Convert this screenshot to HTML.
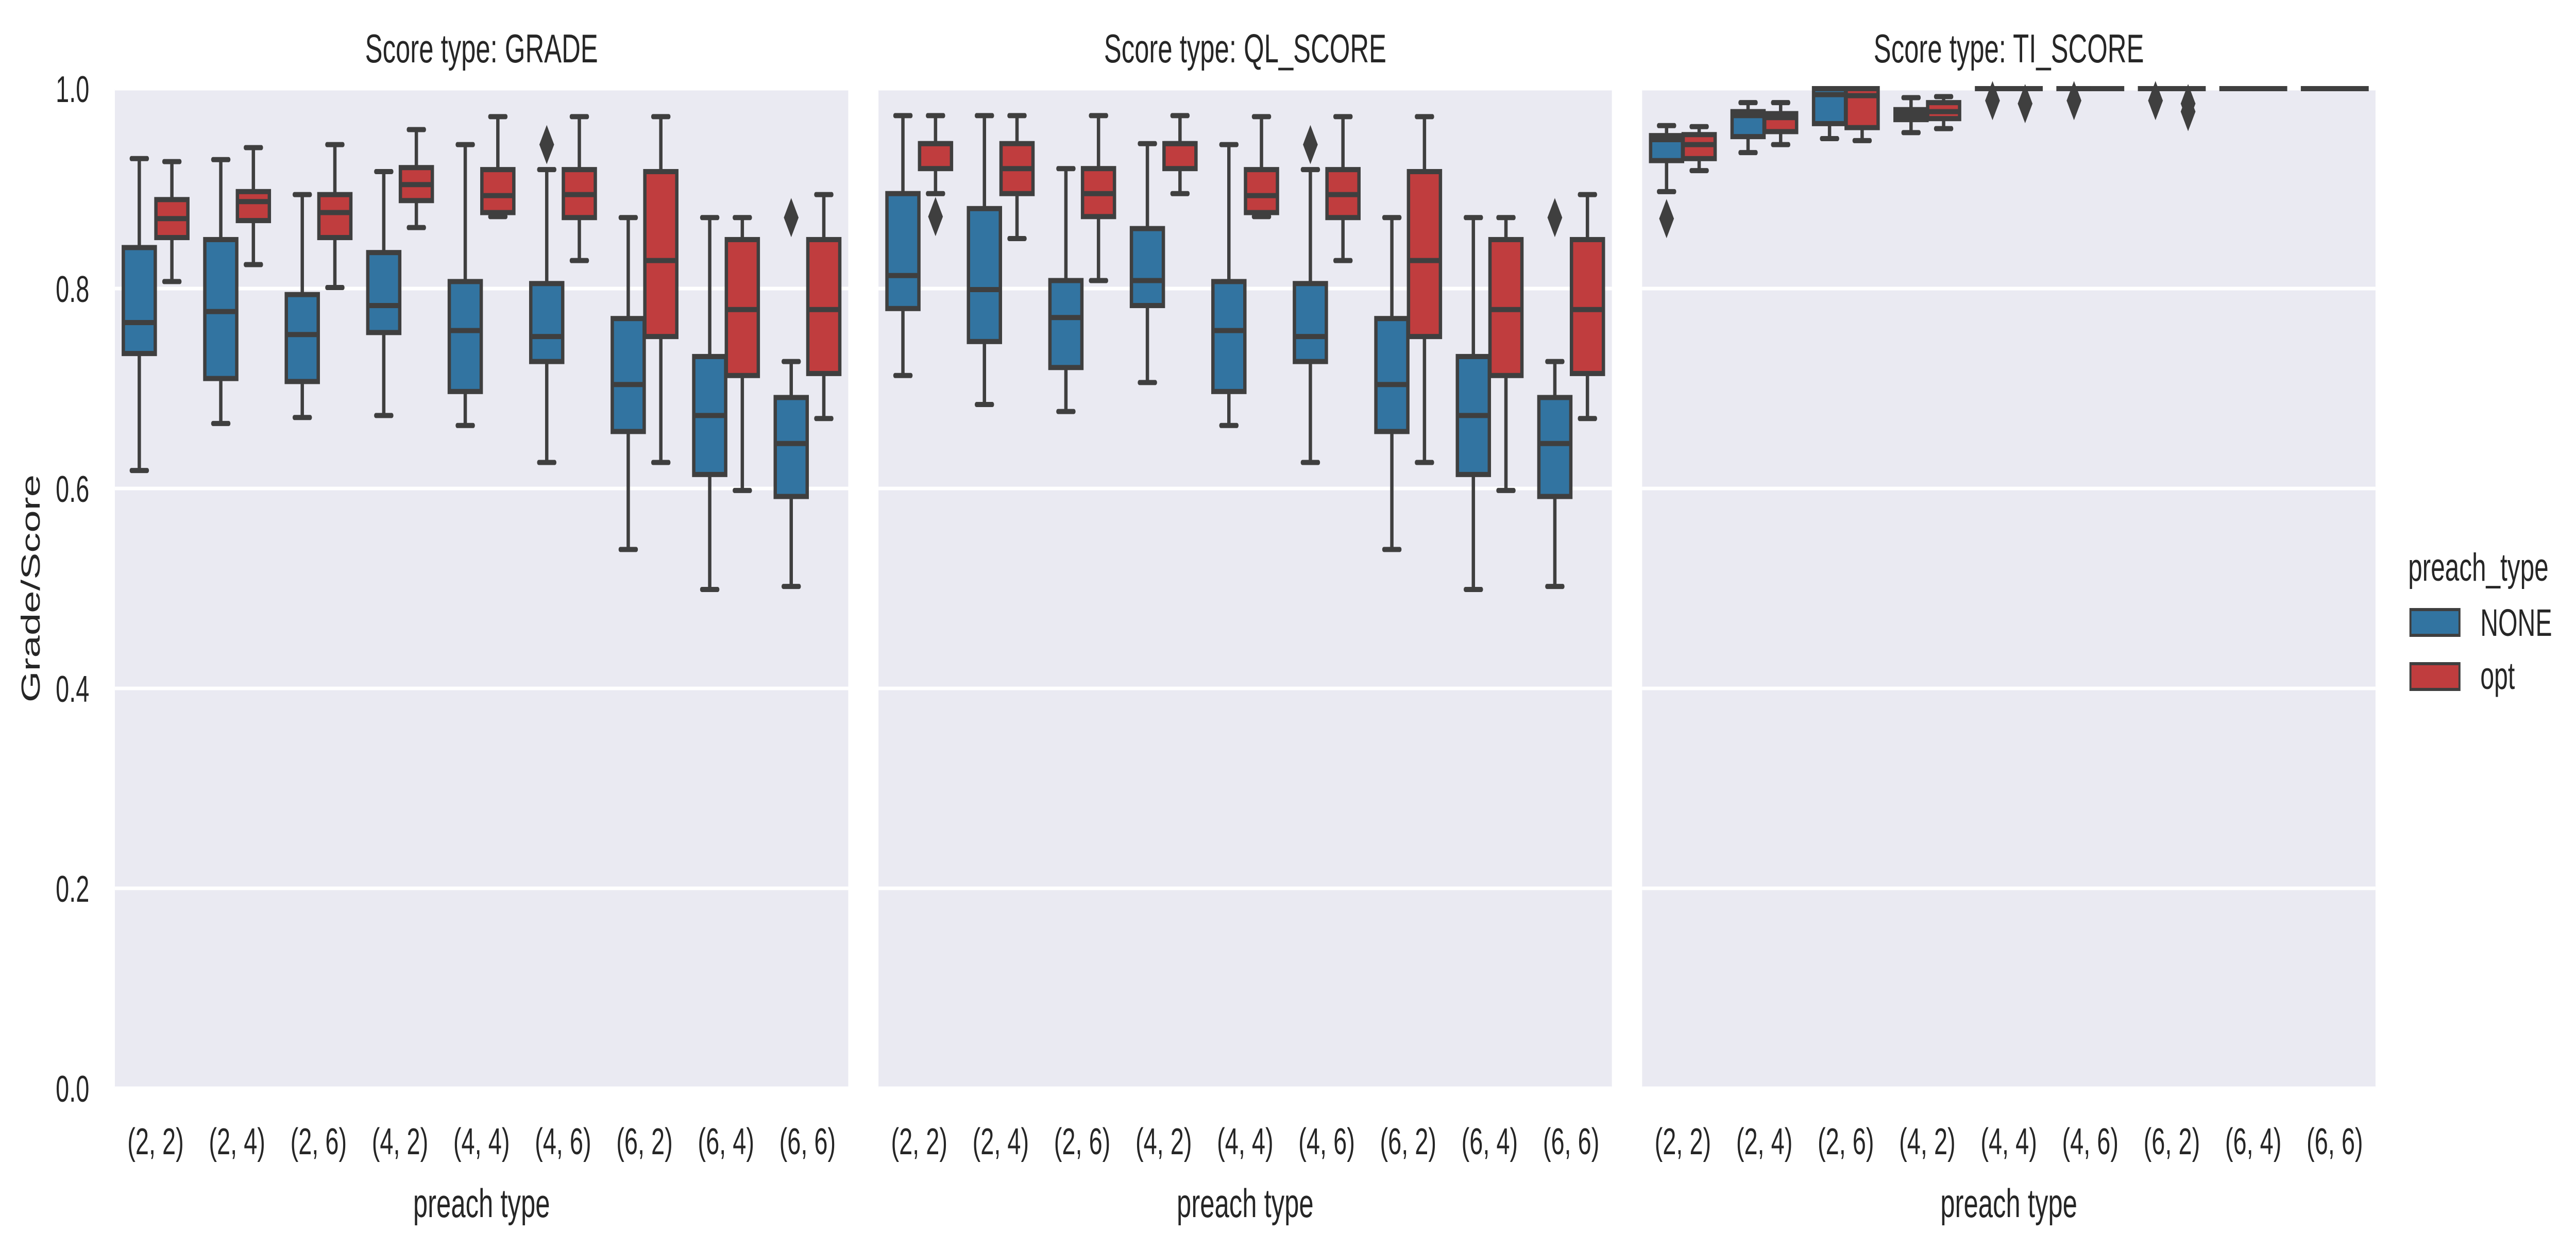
<!DOCTYPE html>
<html><head><meta charset="utf-8"><style>
html,body{margin:0;padding:0;background:#fff;width:100%;height:100%;overflow:hidden;}
svg{display:block;width:100vw;height:100vh;}
text{font-family:"Liberation Sans",Arial,sans-serif;fill:#262626;}
</style></head><body>
<svg id="chart" viewBox="0 0 7671 2422" preserveAspectRatio="none" xmlns="http://www.w3.org/2000/svg" overflow="hidden"></svg>
<script>
const categories = ["(2, 2)","(2, 4)","(2, 6)","(4, 2)","(4, 4)","(4, 6)","(6, 2)","(6, 4)","(6, 6)"];
const panelTitles = ["Score type: GRADE","Score type: QL_SCORE","Score type: TI_SCORE"];
const yTicks = [0,0.2,0.4,0.6,0.8,1.0];
const yTickLabels = ["0.0","0.2","0.4","0.6","0.8","1.0"];
const hues = ["NONE","opt"];
// [lo, q1, med, q3, hi]
const gradeNone = [[0.618,0.735,0.766,0.841,0.930],[0.665,0.710,0.777,0.849,0.929],[0.671,0.707,0.754,0.794,0.894],[0.673,0.756,0.783,0.836,0.917],[0.663,0.697,0.758,0.807,0.944],[0.626,0.727,0.752,0.805,0.919],[0.539,0.657,0.704,0.770,0.871],[0.499,0.614,0.673,0.732,0.871],[0.502,0.592,0.645,0.691,0.727]];
const gradeOpt = [[0.807,0.851,0.870,0.889,0.927],[0.824,0.868,0.887,0.897,0.941],[0.801,0.851,0.876,0.894,0.944],[0.861,0.888,0.904,0.921,0.959],[0.872,0.876,0.893,0.919,0.972],[0.828,0.871,0.894,0.919,0.972],[0.626,0.752,0.828,0.917,0.972],[0.598,0.713,0.779,0.849,0.871],[0.670,0.715,0.779,0.849,0.894]];
const qlNone = [[0.713,0.780,0.813,0.895,0.973],[0.684,0.747,0.799,0.880,0.973],[0.677,0.721,0.771,0.808,0.920],[0.706,0.783,0.808,0.860,0.945],[0.663,0.697,0.758,0.807,0.944],[0.626,0.727,0.752,0.805,0.919],[0.539,0.657,0.704,0.770,0.871],[0.499,0.614,0.673,0.732,0.871],[0.502,0.592,0.645,0.691,0.727]];
const qlOpt = [[0.895,0.920,0.945,0.945,0.973],[0.850,0.895,0.920,0.945,0.973],[0.808,0.872,0.895,0.920,0.973],[0.895,0.920,0.945,0.945,0.973],[0.872,0.876,0.893,0.919,0.972],[0.828,0.871,0.894,0.919,0.972],[0.626,0.752,0.828,0.917,0.972],[0.598,0.713,0.779,0.849,0.871],[0.670,0.715,0.779,0.849,0.894]];
const tiNone = [[0.897,0.928,0.949,0.953,0.963],[0.936,0.952,0.973,0.977,0.986],[0.950,0.965,0.994,1.0,1.0],[0.956,0.969,0.974,0.979,0.991],[1,1,1,1,1],[1,1,1,1,1],[1,1,1,1,1],[1,1,1,1,1],[1,1,1,1,1]];
const tiOpt = [[0.918,0.930,0.944,0.954,0.962],[0.944,0.957,0.971,0.975,0.986],[0.948,0.961,0.993,1.0,1.0],[0.960,0.970,0.977,0.986,0.992],[1,1,1,1,1],[1,1,1,1,1],[1,1,1,1,1],[1,1,1,1,1],[1,1,1,1,1]];
// outliers: [categoryIndex, hueIndex, value]
const gradeOutliers = [[5,0,0.944],[8,0,0.871]];
const qlOutliers = [[0,1,0.872],[5,0,0.944],[8,0,0.871]];
const tiOutliers = [[0,0,0.870],[4,0,0.988],[4,1,0.985],[5,0,0.988],[6,0,0.988],[6,1,0.985],[6,1,0.977]];

const panelData = [[gradeNone,gradeOpt,gradeOutliers],[qlNone,qlOpt,qlOutliers],[tiNone,tiOpt,tiOutliers]];
const NS="http://www.w3.org/2000/svg";
const svg=document.getElementById('chart');
function mk(tag,attrs,parent){const e=document.createElementNS(NS,tag);for(const k in attrs)e.setAttribute(k,attrs[k]);(parent||svg).appendChild(e);return e;}
const panelX=[342,2616,4890], PW=2184, TOP=172, BOT=2112;
const colors=["#3274a1","#c03d3e"], LC="#3f3f3f";
function yScale(v){return BOT-(BOT-TOP)*v;}
function xCat(p,i){return panelX[p]+PW/9*(i+0.5);}

for(let p=0;p<3;p++){
  const g=mk('g',{});
  
  
  const bg=mk('rect',{x:panelX[p],y:TOP,width:PW,height:BOT-TOP,fill:'#eaeaf2'},g);
  
  
  yTicks.forEach((t,i)=>{
    const gl=mk('line',{x1:panelX[p],x2:panelX[p]+PW,y1:yScale(t),y2:yScale(t),stroke:'#fff','stroke-width':7},g);
    
    
    if(p===0){
      const tl=mk('text',{x:266,y:yScale(t)+26,'font-size':72,'text-anchor':'end'},g);
      tl.textContent=yTickLabels[i];
      
      
    }
  });
  const title=mk('text',{x:panelX[p]+PW/2,y:121,'font-size':78,'text-anchor':'middle'},g);
  title.textContent=panelTitles[p];
  
  
  categories.forEach((c,i)=>{
    const tl=mk('text',{x:xCat(p,i),y:2240,'font-size':72,'text-anchor':'middle'},g);
    tl.textContent=c;
    
    
  });
  const xl=mk('text',{x:panelX[p]+PW/2,y:2362,'font-size':78,'text-anchor':'middle'},g);
  xl.textContent='preach type';
  
  

  const hw=PW/9*0.4;
  for(let h=0;h<2;h++){
    const arr=panelData[p][h];
    arr.forEach((s,i)=>{
      const cx=xCat(p,i)+(h===0?-hw/2:hw/2);
      const bw=hw*0.98;
      const bx=mk('g',{},g);
      
      
      const [lo,q1,md,q3,hi]=s;
      mk('line',{x1:cx,x2:cx,y1:yScale(hi),y2:yScale(q3),stroke:LC,'stroke-width':10},bx);
      mk('line',{x1:cx,x2:cx,y1:yScale(q1),y2:yScale(lo),stroke:LC,'stroke-width':10},bx);
      mk('line',{x1:cx-bw/4,x2:cx+bw/4,y1:yScale(hi),y2:yScale(hi),stroke:LC,'stroke-width':10,'stroke-linecap':'round'},bx);
      mk('line',{x1:cx-bw/4,x2:cx+bw/4,y1:yScale(lo),y2:yScale(lo),stroke:LC,'stroke-width':10,'stroke-linecap':'round'},bx);
      mk('rect',{x:cx-bw/2,y:yScale(q3),width:bw,height:Math.max(0.01,yScale(q1)-yScale(q3)),fill:colors[h],stroke:LC,'stroke-width':10},bx);
      mk('line',{x1:cx-bw/2,x2:cx+bw/2,y1:yScale(md),y2:yScale(md),stroke:LC,'stroke-width':10},bx);
    });
  }
  panelData[p][2].forEach(o=>{
    const cx=xCat(p,o[0])+(o[1]===0?-hw/2:hw/2), cy=yScale(o[2]);
    const d=mk('polygon',{points:`${cx},${cy-38} ${cx+22},${cy} ${cx},${cy+38} ${cx-22},${cy}`,fill:LC},g);
    
    
  });
}
const yl=mk('text',{x:118,y:1142,'font-size':78,'text-anchor':'middle',transform:'rotate(-90 118 1142)'});
yl.textContent='Grade/Score';



const lg=mk('g',{});


const lt=mk('text',{x:7171,y:1127,'font-size':76},lg);
lt.textContent='preach_type';


hues.forEach((h,i)=>{
  const e=mk('g',{},lg);
  
  
  mk('rect',{x:7178,y:1183+i*105,width:146,height:50,fill:colors[i],stroke:LC,'stroke-width':6},e);
  const t=mk('text',{x:7386,y:1234+i*103,'font-size':74},e);
  t.textContent=h;
});
</script>
</body></html>
